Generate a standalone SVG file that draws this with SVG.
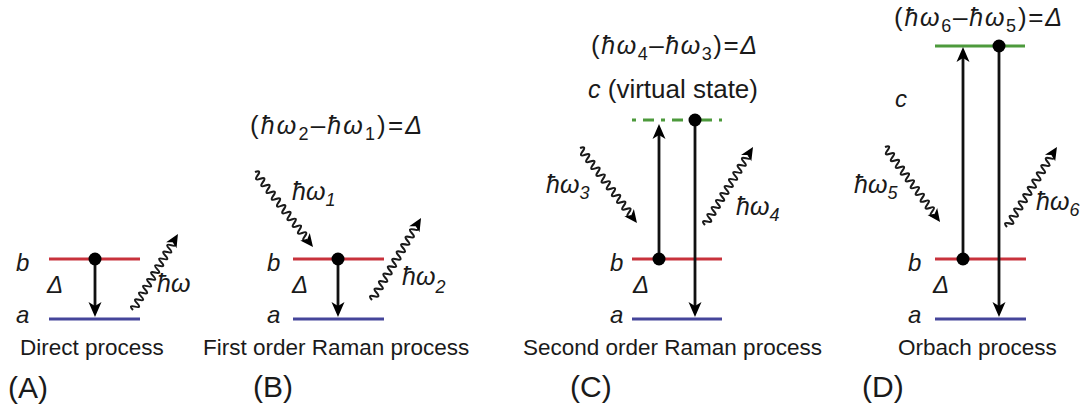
<svg xmlns="http://www.w3.org/2000/svg" xmlns:xlink="http://www.w3.org/1999/xlink" width="1084" height="412" viewBox="0 0 1084 412">
<style>
text{font-family:"Liberation Sans",Arial,sans-serif;fill:#1a1a1a;}
.cap{font-size:22.5px;}
.pl{font-size:30px;}
.it{font-style:italic;font-size:25px;}
.fm{font-size:26px;}
.vs{font-size:26px;}
.lb{font-style:italic;font-size:24px;}
.sub{font-size:18px;}
.red{stroke:#c8323c;stroke-width:3;}
.blue{stroke:#45459a;stroke-width:3;}
.green{stroke:#4d9a3c;stroke-width:3;}
.arr{stroke:#111;stroke-width:2.8;fill:none;marker-end:url(#ah);}
.wave{stroke:#1a1a1a;stroke-width:2;fill:none;}
.dot{fill:#000;}
</style>
<defs>
<marker id="ah" viewBox="-15 -7 16 14" refX="-8" refY="0" markerWidth="16" markerHeight="14" markerUnits="userSpaceOnUse" orient="auto">
<path d="M0 0L-15-6.5-11 0-15 6.5z" fill="#000"/>
</marker>
<path id="wv" d="M0 0q2-7 4 0t4 0t4 0t4 0t4 0t4 0t4 0t4 0t4 0t4 0t4 0t4 0t4 0t4 0t4 0t4 0t4 0t4 0t4 0t4 0"/>
<path id="wh" d="M0 0L-13-6-9.5 0-13 6z" fill="#000" stroke="none"/>
</defs>

<g id="panelA">
<line class="red" x1="49" y1="259" x2="140" y2="259"/>
<line class="blue" x1="49" y1="319" x2="140" y2="319"/>
<text class="lb" x="16" y="271">b</text>
<text class="lb" x="16" y="323">a</text>
<text class="lb" x="47" y="293">Δ</text>
<text class="it" x="157" y="292">ħω</text>
<text class="cap" x="20" y="355">Direct process</text>
<text class="pl" x="8" y="398">(A)</text>
</g>

<g id="panelB">
<line class="red" x1="293" y1="259" x2="384" y2="259"/>
<line class="blue" x1="293" y1="319" x2="384" y2="319"/>
<text class="lb" x="267" y="271">b</text>
<text class="lb" x="267" y="323">a</text>
<text class="lb" x="292" y="293">Δ</text>
<text class="fm" x="250" y="134" textLength="172" lengthAdjust="spacing">(<tspan class="it">ħω</tspan><tspan class="sub" dy="6">2</tspan><tspan dy="-6">–</tspan><tspan class="it">ħω</tspan><tspan class="sub" dy="6">1</tspan><tspan dy="-6">)=</tspan><tspan class="it">Δ</tspan></text>
<text class="it" x="292" y="200">ħω<tspan class="sub" dy="6">1</tspan></text>
<text class="it" x="402" y="285">ħω<tspan class="sub" dy="8">2</tspan></text>
<text class="cap" x="203" y="355">First order Raman process</text>
<text class="pl" x="253" y="397">(B)</text>
</g>

<g id="panelC">
<line class="green" x1="632" y1="120" x2="722" y2="120" stroke-dasharray="4 7 11 7"/>
<line class="red" x1="632" y1="259" x2="722" y2="259"/>
<line class="blue" x1="632" y1="319" x2="722" y2="319"/>
<text class="fm" x="591" y="54" textLength="166" lengthAdjust="spacing">(<tspan class="it">ħω</tspan><tspan class="sub" dy="6">4</tspan><tspan dy="-6">–</tspan><tspan class="it">ħω</tspan><tspan class="sub" dy="6">3</tspan><tspan dy="-6">)=</tspan><tspan class="it">Δ</tspan></text>
<text class="vs" x="588" y="98"><tspan class="it">c</tspan> (virtual state)</text>
<text class="lb" x="610" y="271">b</text>
<text class="lb" x="610" y="323">a</text>
<text class="lb" x="633" y="293">Δ</text>
<text class="it" x="546" y="193">ħω<tspan class="sub" dy="6">3</tspan></text>
<text class="it" x="736" y="215">ħω<tspan class="sub" dy="6">4</tspan></text>
<text class="cap" x="523" y="355">Second order Raman process</text>
<text class="pl" x="570" y="397">(C)</text>
</g>

<g id="panelD">
<line class="green" x1="935" y1="46" x2="1025" y2="46"/>
<line class="red" x1="935" y1="259" x2="1026" y2="259"/>
<line class="blue" x1="935" y1="319" x2="1026" y2="319"/>
<text class="fm" x="894" y="26" textLength="168" lengthAdjust="spacing">(<tspan class="it">ħω</tspan><tspan class="sub" dy="6">6</tspan><tspan dy="-6">–</tspan><tspan class="it">ħω</tspan><tspan class="sub" dy="6">5</tspan><tspan dy="-6">)=</tspan><tspan class="it">Δ</tspan></text>
<text class="lb" x="895" y="107">c</text>
<text class="lb" x="908" y="271">b</text>
<text class="lb" x="908" y="323">a</text>
<text class="lb" x="933" y="293">Δ</text>
<text class="it" x="854" y="193">ħω<tspan class="sub" dy="6">5</tspan></text>
<text class="it" x="1036" y="210">ħω<tspan class="sub" dy="6">6</tspan></text>
<text class="cap" x="898" y="355">Orbach process</text>
<text class="pl" x="862" y="397">(D)</text>
</g>

<g id="connectors">
<line class="arr" x1="95" y1="259" x2="95" y2="309"/>
<line class="arr" x1="338" y1="259" x2="338" y2="309"/>
<line class="arr" x1="659" y1="259" x2="659" y2="132"/>
<line class="arr" x1="695" y1="120" x2="695" y2="309"/>
<line class="arr" x1="963" y1="259" x2="963" y2="55"/>
<line class="arr" x1="999" y1="46" x2="999" y2="309"/>
<circle class="dot" cx="95" cy="259" r="6.5"/>
<circle class="dot" cx="338" cy="259" r="6.5"/>
<circle class="dot" cx="659" cy="259" r="6.5"/>
<circle class="dot" cx="695" cy="120" r="6.5"/>
<circle class="dot" cx="963" cy="259" r="6.5"/>
<circle class="dot" cx="999" cy="46" r="6.5"/>
<g class="wave" transform="translate(133,310) rotate(-59.4)"><use href="#wv" transform="scale(0.99,1)"/><use href="#wh" x="88.3"/></g>
<g class="wave" transform="translate(255,172) rotate(52.3)"><use href="#wv" transform="scale(1.07,1)"/><use href="#wh" x="94.8"/></g>
<g class="wave" transform="translate(372,300) rotate(-59.1)"><use href="#wv" transform="scale(1.08,1)"/><use href="#wh" x="95.5"/></g>
<g class="wave" transform="translate(580,148) rotate(52.8)"><use href="#wv" transform="scale(1.065,1)"/><use href="#wh" x="94.2"/></g>
<g class="wave" transform="translate(705,225) rotate(-58.4)"><use href="#wv" transform="scale(1.03,1)"/><use href="#wh" x="91.6"/></g>
<g class="wave" transform="translate(885,147) rotate(53.7)"><use href="#wv" transform="scale(1.05,1)"/><use href="#wh" x="93"/></g>
<g class="wave" transform="translate(1007,227) rotate(-58)"><use href="#wv" transform="scale(1.066,1)"/><use href="#wh" x="94.3"/></g>
</g>
</svg>
